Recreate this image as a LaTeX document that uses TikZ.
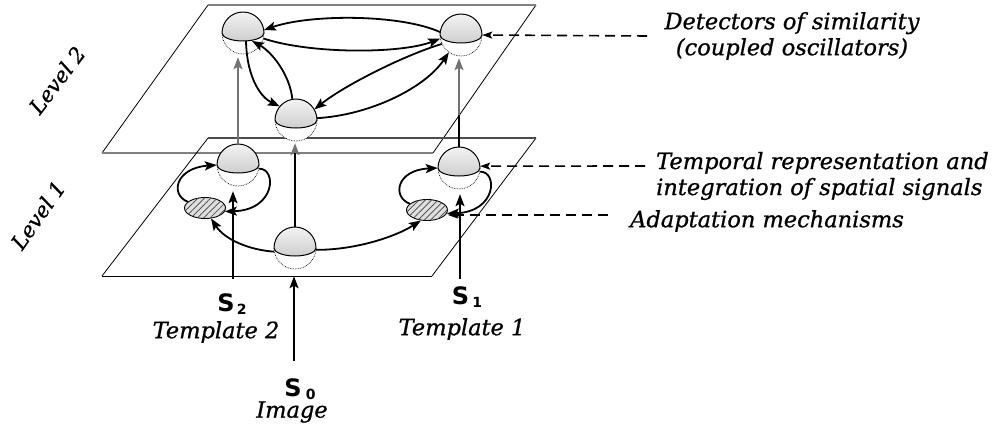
\documentclass[tikz,border=0pt]{standalone}
\usepackage{fontspec}
\setmainfont{DejaVu Serif}
\setsansfont{DejaVu Sans}
\newfontface\lblface{DejaVu Serif Italic}[FakeBold=0.9]
\usetikzlibrary{arrows.meta,shapes.geometric,patterns.meta,calc}
\newcommand\hemisph[1]{%
  \draw[densely dotted,line width=0.7pt,fill=white] ($(#1.center)+(21,0)$) arc[start angle=0,end angle=180,radius=21];
  \shade[top color=gray!10,bottom color=gray!38] ($(#1.center)+(-21,0)$) arc[start angle=180,end angle=360,radius=21] arc[start angle=0,end angle=180,x radius=21,y radius=8] -- cycle;
  \draw[line width=1pt] ($(#1.center)+(-21,0)$) arc[start angle=180,end angle=360,radius=21] arc[start angle=0,end angle=180,x radius=21,y radius=8];
}
\begin{document}
\begin{tikzpicture}[x=1pt,y=-1pt,
  sph/.style={circle,minimum size=42pt,inner sep=0pt},
  hatchell/.style={ellipse,minimum width=41pt,minimum height=21pt,inner sep=0pt,draw,line width=0.9pt,
     fill=gray!25,postaction={pattern={Lines[angle=45,distance=4.5pt,line width=0.7pt]},pattern color=black!75}},
  arr/.style={line width=1.8pt,-{Stealth[length=12pt,width=9pt,inset=2.5pt]}},
  grayarr/.style={line width=1.8pt,black!55,-{Stealth[length=12pt,width=9pt,inset=2.5pt]}},
  dasharr/.style={line width=1.6pt,dash pattern=on 10pt off 6pt,-{Stealth[length=10pt,width=7pt,inset=2pt]}},
  thinedge/.style={line width=0.8pt},
  lbl/.style={font=\fontsize{22.5}{26}\lblface,inner sep=0pt},
  slbl/.style={font=\fontsize{24}{24}\selectfont\sffamily\bfseries,inner sep=0pt},
  lvl/.style={font=\fontsize{21}{24}\lblface,inner sep=0pt}
]
\useasboundingbox (0,0) rectangle (995,428);
% planes
\draw[thinedge] (102,153) -- (208,5);
\draw[thinedge] (433,153) -- (536,5);
\draw[line width=1.8pt,black!50] (208,5) -- (536,5);
\draw[line width=1.7pt,black!50] (102,153) -- (433,153);
\draw[thinedge] (102,276) -- (208,138);
\draw[thinedge] (432,276) -- (536,138);
\draw[line width=1.8pt,black!70] (208,138) -- (536,138);
\draw[line width=1pt] (102,276) -- (432,276);
% nodes
\node[sph] (TL) at (243,33) {};
\node[sph] (TR) at (461,35) {};
\node[sph] (M2) at (296,120) {};
\node[sph] (L1) at (238,165) {};
\node[sph] (R1) at (459,168) {};
\node[sph] (M1) at (295,248) {};
\hemisph{TL}\hemisph{TR}\hemisph{M2}\hemisph{L1}\hemisph{R1}\hemisph{M1}
\node[hatchell] (EL) at (205,208) {};
\node[hatchell] (ER) at (427,210) {};
% level 2 links
\draw[arr] (TR.172) .. controls (400,14) and (310,14) .. (TL.8);
\draw[arr] (TL.-15) .. controls (310,54) and (400,54) .. (TR.190);
\draw[arr] ($(TL.center)+(3,8)$) .. controls (247,80) and (262,98) .. (M2.140);
\draw[arr] (M2.100) .. controls (290,75) and (272,52) .. ($(TL.center)+(9,8)$);
\draw[arr] (TR.205) .. controls (405,55) and (345,85) .. (M2.30);
\draw[arr] (M2.5) .. controls (370,115) and (425,88) .. (TR.235);
% level 1 links
\draw[arr] (EL.160) .. controls (170,195) and (175,168) .. (L1.180);
\draw[arr] (L1.-10) .. controls (277,168) and (276,210) .. (EL.-10);
\draw[arr] (ER.160) .. controls (392,197) and (396,170) .. (R1.180);
\draw[arr] (R1.-10) .. controls (498,171) and (497,212) .. (ER.-10);
\draw[arr] (M1.190) .. controls (250,250) and (225,240) .. (EL.-60);
\draw[arr] (M1.-5) .. controls (355,250) and (395,237) .. (ER.-120);
% between levels
\draw[grayarr,shorten >=3pt] (L1.north) -- (L1.north |- TL.south);
\coordinate (rc) at (459,115);
\draw[line width=1.8pt] (R1.north) -- (rc);
\draw[grayarr,shorten >=2pt] (rc) -- (rc |- TR.south);
\draw[line width=1.8pt,-{Stealth[length=12pt,width=9pt,inset=2.5pt,color=black!55]},shorten >=2pt] (M1.north) -- (M1.north |- M2.south);
% inputs
\coordinate (s2) at (233,279);
\coordinate (s1) at (460,279);
\coordinate (s0) at (294,361);
\draw[arr,shorten >=5pt] (s2) -- (s2 |- L1.south);
\draw[arr,shorten >=5pt] (s1) -- (s1 |- R1.south);
\draw[arr,shorten >=7pt] (s0) -- (s0 |- M1.south);
% dashed pointers
\coordinate (d1) at (647,36);
\coordinate (d2) at (645,166);
\coordinate (d3) at (608,215);
\draw[dasharr] (d1) -- (TR.east);
\draw[dasharr] (d2) -- (R1.5);
\draw[dasharr] (d3) -- (d3 -| ER.east);
% labels
\node[lbl,align=center] (det) at (792,36) {Detectors of similarity\\(coupled oscillators)};
\node[lbl,align=left,anchor=west] (tmp) at (656,176) {Temporal representation and\\integration of spatial signals};
\node[lbl,anchor=west] (ada) at (630,221) {Adaptation mechanisms};
\node[slbl] (S2) at (232,304) {S\kern2pt\raisebox{-3pt}{\fontsize{14}{14}\selectfont 2}};
\node[lbl] (T2) at (216,332) {Template 2};
\node[slbl] (S1) at (467,297) {S\kern3pt\raisebox{-3pt}{\fontsize{14}{14}\selectfont 1}};
\node[lbl] (T1) at (462,329) {Template 1};
\node[slbl] (S0) at (300,389) {S\kern4pt\raisebox{-3pt}{\fontsize{14}{14}\selectfont 0}};
\node[lbl] (img) at (292,412) {Image};
\node[lvl,rotate=53] (lv2) at (57,80) {Level 2};
\node[lvl,rotate=55] (lv1) at (38,215) {Level 1};
\end{tikzpicture}
\end{document}
